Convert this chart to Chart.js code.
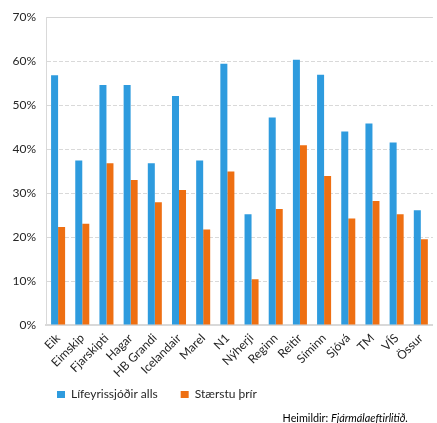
<!DOCTYPE html>
<html>
<head>
<meta charset="utf-8">
<script src="https://cdn.jsdelivr.net/npm/chart.js@4/dist/chart.umd.min.js"></script>
<style>
  html, body { margin: 0; padding: 0; background: #ffffff; overflow: hidden; }
  #wrap { position: relative; width: 437px; height: 423px; }
  #source { position: absolute; right: 29px; top: 411px; font-family: Lato, sans-serif; font-size: 10.8px; color: #000; line-height: 14px; white-space: nowrap; }
</style>
</head>
<body>
<div id="wrap">
  <canvas id="c" width="437" height="423"></canvas>
  <div id="source">Heimildir: <i>Fjármálaeftirlitið.</i></div>
</div>
<script>
const categories = ["Eik", "Eimskip", "Fjarskipti", "Hagar", "HB Grandi", "Icelandair", "Marel", "N1", "Nýherji", "Reginn", "Reitir", "Síminn", "Sjóvá", "TM", "VÍS", "Össur"];
const lifeyrissjodirAlls = [56.8, 37.4, 54.6, 54.6, 36.8, 52.1, 37.4, 59.4, 25.2, 47.2, 60.3, 56.9, 44.0, 45.8, 41.5, 26.1];
const staerstuThrir = [22.3, 23.0, 36.8, 33.0, 27.9, 30.7, 21.7, 34.9, 10.4, 26.4, 40.9, 33.9, 24.2, 28.2, 25.2, 19.5];
const seriesNames = ["Lífeyrissjóðir alls", "Stærstu þrír"];
const yMax = 70;
const yStep = 10;

const legendShift = {
  id: 'legendShift',
  afterLayout(chart) {
    const lg = chart.legend;
    if (lg) { lg.left += 34; lg.right += 34; lg.top -= 11.6; lg.bottom -= 11.6; }
  }
};

new Chart(document.getElementById('c'), {
  type: 'bar',
  data: {
    labels: categories,
    datasets: [
      { label: seriesNames[0], data: lifeyrissjodirAlls, backgroundColor: '#2E9BDE', borderWidth: 0 },
      { label: seriesNames[1], data: staerstuThrir, backgroundColor: '#EE6F12', borderWidth: 0 }
    ]
  },
  options: {
    responsive: false,
    animation: false,
    devicePixelRatio: 1,
    layout: { padding: { top: 15, left: 0, right: 0, bottom: 1 } },
    datasets: { bar: { categoryPercentage: 0.58, barPercentage: 1.0 } },
    plugins: {
      legend: {
        position: 'bottom',
        align: 'start',
        labels: {
          boxWidth: 8, boxHeight: 7, padding: 23,
          color: '#262626',
          font: { family: 'Lato', size: 12 }
        }
      },
      tooltip: { enabled: false }
    },
    scales: {
      x: {
        grid: { display: false, drawTicks: false },
        border: { display: true, color: '#D9D9D9', width: 2 },
        ticks: {
          autoSkip: false,
          minRotation: 45, maxRotation: 45, padding: 6,
          color: '#262626', font: { family: 'Lato', size: 12 }
        },
        afterFit(s) { s.height = 52; }
      },
      y: {
        min: 0, max: yMax,
        grid: {
          drawTicks: false,
          lineWidth: 1,
          color: (ctx) => (ctx.tick && ctx.tick.value === 0) ? 'rgba(0,0,0,0)' : (ctx.tick && ctx.tick.value === yMax ? '#D4D4D4' : '#D9D9D9')
        },
        border: {
          display: true, color: '#D9D9D9', width: 1,
          dash: (ctx) => (ctx.tick && ctx.tick.value === yMax) ? [] : [4, 2]
        },
        ticks: {
          stepSize: yStep, padding: 10,
          color: '#262626', font: { family: 'Lato', size: 12 },
          callback: (v) => v + '%'
        },
        afterFit(s) { s.width = 46; }
      }
    }
  },
  plugins: [legendShift]
});
</script>
</body>
</html>
